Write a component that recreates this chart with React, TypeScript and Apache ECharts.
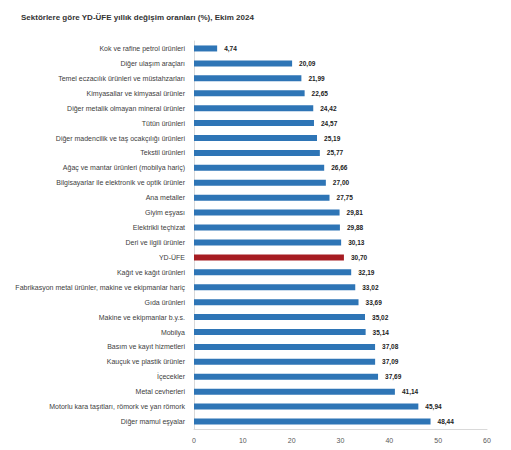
import React, { useEffect, useRef } from "react";
import * as echarts from "echarts";

const titleText = "Sektörlere göre YD-ÜFE yıllık değişim oranları (%), Ekim 2024";

const categories = [
  "Kok ve rafine petrol ürünleri",
  "Diğer ulaşım araçları",
  "Temel eczacılık ürünleri ve müstahzarları",
  "Kimyasallar ve kimyasal ürünler",
  "Diğer metalik olmayan mineral ürünler",
  "Tütün ürünleri",
  "Diğer madencilik ve taş ocakçılığı ürünleri",
  "Tekstil ürünleri",
  "Ağaç ve mantar ürünleri (mobilya hariç)",
  "Bilgisayarlar ile elektronik ve optik ürünler",
  "Ana metaller",
  "Giyim eşyası",
  "Elektrikli teçhizat",
  "Deri ve ilgili ürünler",
  "YD-ÜFE",
  "Kağıt ve kağıt ürünleri",
  "Fabrikasyon metal ürünler, makine ve ekipmanlar hariç",
  "Gıda ürünleri",
  "Makine ve ekipmanlar b.y.s.",
  "Mobilya",
  "Basım ve kayıt hizmetleri",
  "Kauçuk ve plastik ürünler",
  "İçecekler",
  "Metal cevherleri",
  "Motorlu kara taşıtları, römork ve yan römork",
  "Diğer mamul eşyalar",
];

const values = [
  4.74, 20.09, 21.99, 22.65, 24.42, 24.57, 25.19, 25.77, 26.66, 27.0, 27.75,
  29.81, 29.88, 30.13, 30.7, 32.19, 33.02, 33.69, 35.02, 35.14, 37.08, 37.09,
  37.69, 41.14, 45.94, 48.44,
];

const highlightCategory = "YD-ÜFE";
const xTicks = { min: 0, max: 60, interval: 10 };

export default function App() {
  const ref = useRef<HTMLDivElement>(null);
  useEffect(() => {
    document.body.style.margin = "0";
    const chart = echarts.init(ref.current!, null, { renderer: "svg" });
    const font = "'Liberation Sans', Arial, sans-serif";
    chart.setOption({
      animation: false,
      backgroundColor: "#ffffff",
      title: {
        text: titleText,
        left: 16,
        top: 8,
        textStyle: { fontSize: 8, fontWeight: "bold", color: "#333333", fontFamily: font },
      },
      grid: { left: 194, right: 24, top: 41, bottom: 21, containLabel: false },
      xAxis: {
        type: "value",
        min: xTicks.min,
        max: xTicks.max,
        interval: xTicks.interval,
        axisLine: { show: true, lineStyle: { color: "#d9d9d9", width: 1 } },
        axisTick: { show: false },
        splitLine: { show: false },
        axisLabel: { fontSize: 7, color: "#595959", margin: 8, fontFamily: font },
      },
      yAxis: {
        type: "category",
        data: categories,
        inverse: true,
        axisLine: { show: true, lineStyle: { color: "#d9d9d9", width: 1 } },
        axisTick: { show: false },
        axisLabel: { fontSize: 7, color: "#404040", margin: 9, fontFamily: font },
      },
      series: [
        {
          type: "bar",
          barWidth: 6,
          data: values.map((v, i) => ({
            value: v,
            itemStyle: { color: categories[i] === highlightCategory ? "#a61c22" : "#2e75b6" },
          })),
          label: {
            show: true,
            position: "right",
            distance: 7,
            fontSize: 6.5,
            fontWeight: "bold",
            color: "#222222",
            fontFamily: font,
            formatter: (p: any) => p.value.toFixed(2).replace(".", ","),
          },
        },
      ],
    });
    return () => chart.dispose();
  }, []);
  return <div ref={ref} style={{ width: 511, height: 450 }} />;
}
